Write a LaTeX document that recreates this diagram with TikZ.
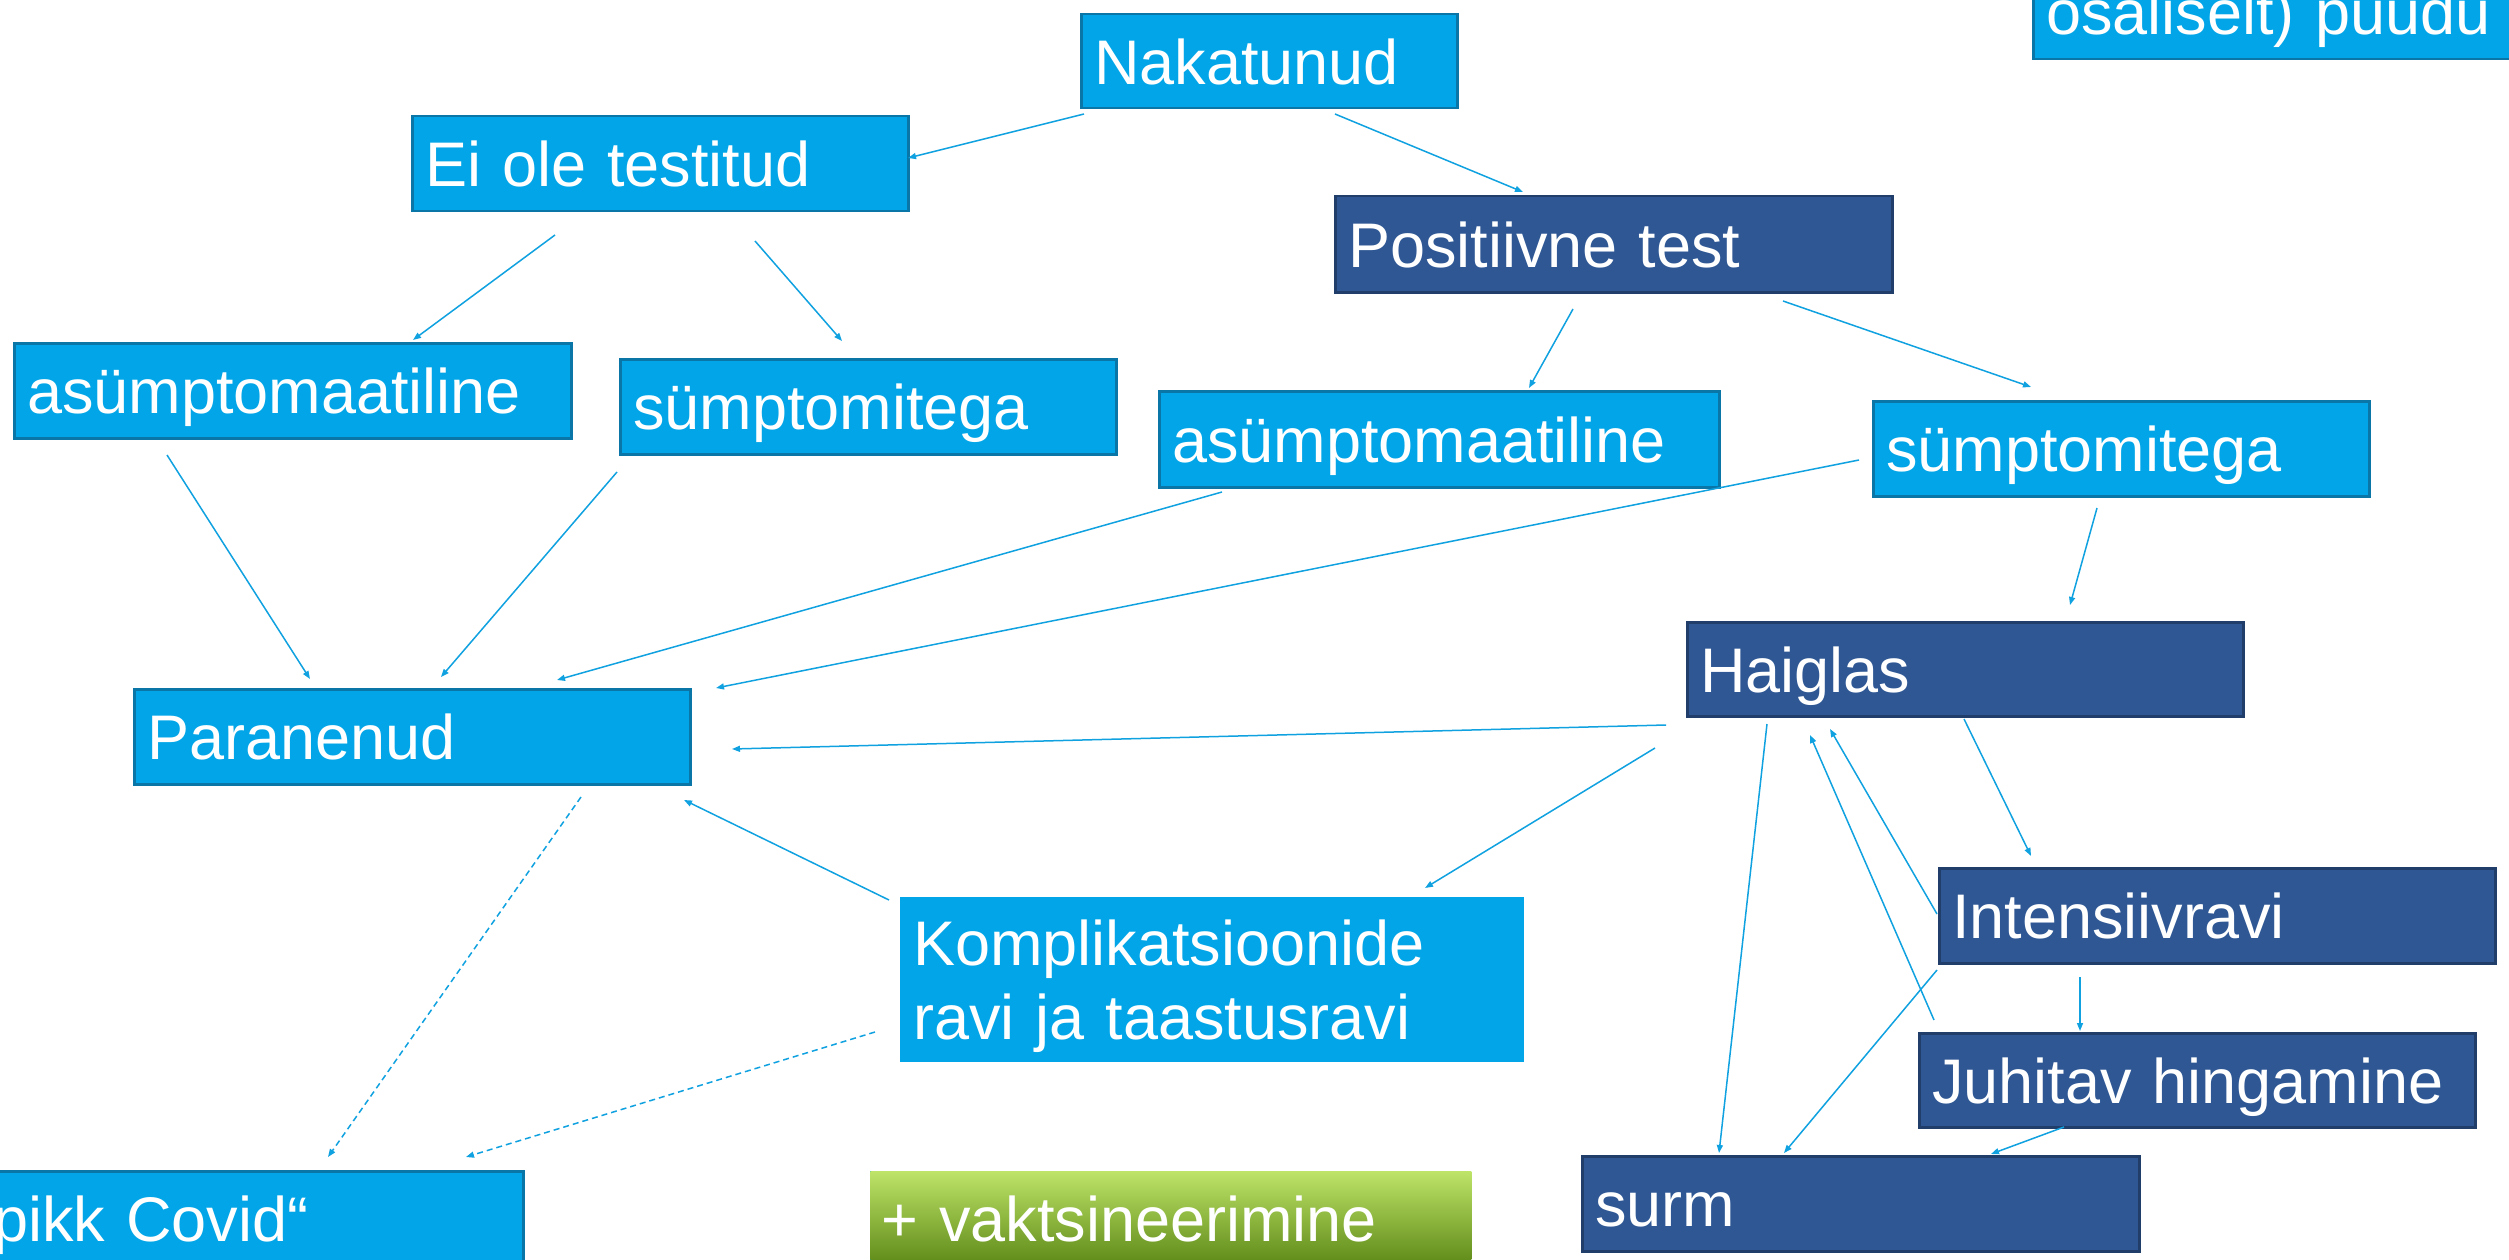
\documentclass[tikz,border=0pt]{standalone}
\usepackage{fontspec}
\setmainfont{Liberation Sans}
\usetikzlibrary{arrows.meta,calc}
\definecolor{lbf}{RGB}{2,166,232}
\definecolor{lbb}{RGB}{10,118,168}
\definecolor{dbf}{RGB}{46,87,148}
\definecolor{dbb}{RGB}{33,61,106}
\definecolor{arrc}{RGB}{16,162,224}
\definecolor{gtop}{RGB}{190,228,104}
\definecolor{gmid}{RGB}{140,192,36}
\definecolor{gbot}{RGB}{92,136,22}
\newcommand\figfont{\fontsize{63}{74}\selectfont}
\tikzset{
  lb/.style={draw=lbb, fill=lbf, line width=2.5pt, anchor=north west, inner xsep=13pt, inner ysep=0pt,
    text height=46pt, text depth=0pt, align=left, text=white, font=\figfont},
  db/.style={lb, draw=dbb, fill=dbf},
  conn/.style={draw=arrc, line width=1.5pt, -{Triangle[length=8pt,width=6pt]}},
  dconn/.style={conn, dash pattern=on 6pt off 4pt}
}
\begin{document}
\begin{tikzpicture}[x=1pt,y=-1pt]
\useasboundingbox (0,0) rectangle (2509,1260);
\fill[white] (0,0) rectangle (2509,1260);
\clip (0,0) rectangle (2509,1260);

% boxes
\node[lb, text width=350pt, minimum height=94pt] (nak) at (1080,13) {Nakatunud};
\node[lb, text width=470pt, minimum height=95pt] (eio) at (411,115) {Ei ole testitud};
\node[db, text width=531pt, minimum height=96pt] (pos) at (1334,195) {Positiivne test};
\node[lb, text width=531pt, minimum height=95pt] (al) at (13,342) {asümptomaatiline};
\node[lb, text width=470pt, minimum height=95pt] (sl) at (619,358) {sümptomitega};
\node[lb, text width=534pt, minimum height=96pt] (ar) at (1158,390) {asümptomaatiline};
\node[lb, text width=470pt, minimum height=95pt] (sr) at (1872,400) {sümptomitega};
\node[db, text width=530pt, minimum height=94pt] (hai) at (1686,621) {Haiglas};
\node[lb, text width=530pt, minimum height=95pt] (par) at (133,688) {Paranenud};
\node[lb, draw=none, text width=598pt, minimum height=165pt, text depth=74pt] (kom) at (899,896) {Komplikatsioonide\\ravi ja taastusravi};
\node[db, text width=530pt, minimum height=95pt] (int) at (1938,867) {Intensiivravi};
\node[db, text width=530pt, minimum height=94pt] (juh) at (1918,1032) {Juhitav hingamine};
\node[db, text width=531pt, minimum height=95pt] (surm) at (1581,1155) {surm};
\node[lb, text width=538pt, minimum height=95pt] (pikk) at (-42,1170) {„pikk Covid“};
\node[lb, draw=none, top color=gtop, middle color=gmid, bottom color=gbot, inner xsep=11pt,
      text width=579pt, minimum height=95pt] (vak) at (869,1170) {+ vaktsineerimine};
\node[lb, text width=480pt, minimum height=95pt] (top) at (2032,-37) {osaliselt) puudu};

% connectors
\draw[conn] ($(nak.north west)+(4,101)$) -- ($(eio.north west)+(497,43)$);
\draw[conn] ($(nak.north west)+(255,101)$) -- ($(pos.north west)+(189,-3)$);
\draw[conn] ($(eio.north west)+(144,120)$) -- ($(al.north west)+(400,-2)$);
\draw[conn] ($(eio.north west)+(344,126)$) -- ($(sl.north west)+(223,-17)$);
\draw[conn] ($(pos.north west)+(239,114)$) -- ($(ar.north west)+(371,-2)$);
\draw[conn] ($(pos.north west)+(449,106)$) -- ($(sr.north west)+(159,-13)$);
\draw[conn] ($(al.north west)+(154,113)$) -- ($(par.north west)+(177,-9)$);
\draw[conn] ($(sl.north west)+(-2,114)$) -- ($(par.north west)+(308,-11)$);
\draw[conn] ($(ar.north west)+(64,102)$) -- ($(par.north west)+(424,-8)$);
\draw[conn] ($(sr.north west)+(-13,60)$) -- ($(par.north west)+(583,0)$);
\draw[conn] ($(sr.north west)+(225,108)$) -- ($(hai.north west)+(384,-16)$);
\draw[conn] ($(hai.north west)+(-20,104)$) -- ($(par.north west)+(599,61)$);
\draw[conn] ($(hai.north west)+(-31,127)$) -- ($(kom.north west)+(526,-8)$);
\draw[conn] ($(kom.north west)+(-10,4)$) -- ($(par.north west)+(551,112)$);
\draw[dconn] ($(par.north west)+(448,109)$) -- ($(pikk.north west)+(370,-13)$);
\draw[dconn] ($(kom.north west)+(-24,136)$) -- ($(pikk.north west)+(508,-13)$);
\draw[conn] ($(hai.north west)+(278,98)$) -- ($(int.north west)+(93,-11)$);
\draw[conn] ($(int.north west)+(-1,47)$) -- ($(hai.north west)+(144,108)$);
\draw[conn] ($(juh.north west)+(16,-12)$) -- ($(hai.north west)+(124,114)$);
\draw[conn] ($(hai.north west)+(81,103)$) -- ($(surm.north west)+(138,-2)$);
\draw[conn] ($(int.north west)+(-1,103)$) -- ($(surm.north west)+(203,-2)$);
\draw[conn] ($(int.north west)+(142,110)$) -- ($(juh.north west)+(162,-1)$);
\draw[conn] ($(juh.north west)+(146,95)$) -- ($(surm.north west)+(410,-1)$);
\end{tikzpicture}
\end{document}
